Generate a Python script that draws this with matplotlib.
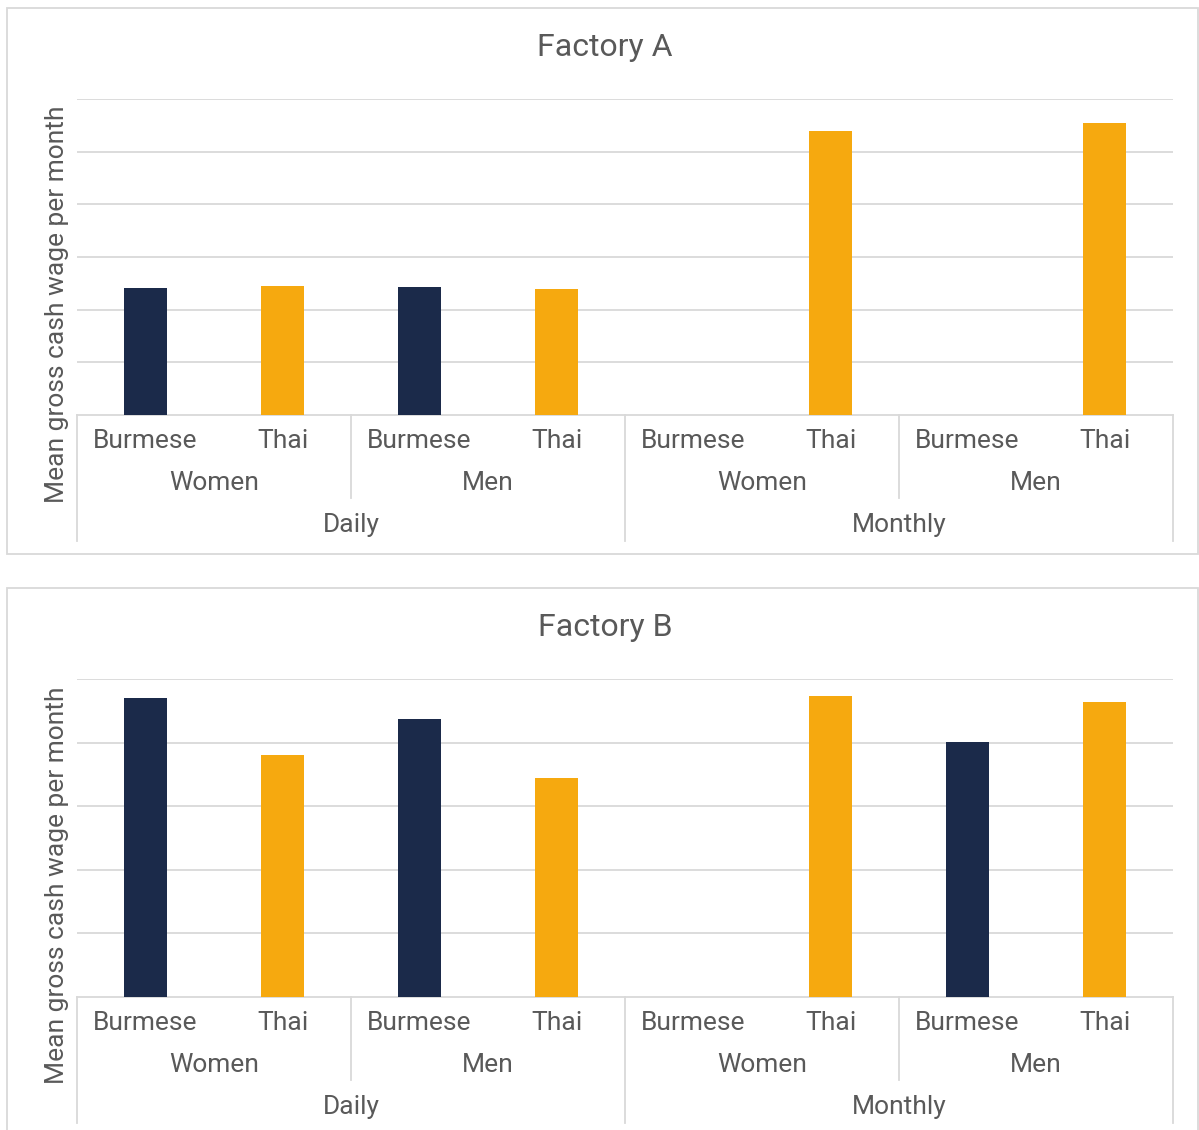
import numpy as np
import matplotlib.pyplot as plt
from matplotlib.patches import Rectangle

plt.rcParams['font.family'] = ['Roboto', 'DejaVu Sans']

# Category levels (innermost first)
nationality = ['Burmese', 'Thai', 'Burmese', 'Thai', 'Burmese', 'Thai', 'Burmese', 'Thai']
gender = ['Women', 'Men', 'Women', 'Men']
pay_basis = ['Daily', 'Monthly']

# Mean gross cash wage per month (in gridline units; 0 = no workers in group)
factory_a = [2.41, 2.45, 2.43, 2.39, 0, 5.39, 0, 5.54]
factory_b = [4.70, 3.81, 4.37, 3.44, 0, 4.73, 4.01, 4.64]

navy = '#1B2A4A'
orange = '#F6A90F'
grey_line = '#D9D9D9'
text_col = '#595959'

W, H = 1199, 1130
fig = plt.figure(figsize=(W / 100, H / 100), dpi=100)


def fx(px):
    return px / W


def fy(py):
    return 1 - py / H


def draw_panel(title, values, top_grid, base, n_grid, box):
    # outer chart border
    bx0, by0, bx1, by1 = box
    fig.patches.append(Rectangle((fx(bx0), fy(by1)), fx(bx1 - bx0), (by1 - by0) / H,
                                 transform=fig.transFigure, fill=False,
                                 edgecolor=grey_line, linewidth=1.3))

    left, right = 77, 1173
    ax = fig.add_axes([fx(left), fy(base), fx(right - left), (base - top_grid) / H])
    x = np.arange(len(values))
    colors = [navy if n == 'Burmese' else orange for n in nationality]
    ax.bar(x, values, width=0.314, color=colors, zorder=3)
    ax.set_xlim(-0.5, len(values) - 0.5)
    ax.set_ylim(0, n_grid)
    ax.set_yticks(np.arange(1, n_grid + 1))
    ax.set_yticklabels([])
    ax.set_xticks([])
    ax.tick_params(left=False)
    ax.grid(axis='y', color=grey_line, linewidth=1.3, zorder=0)
    for s in ['left', 'right', 'top']:
        ax.spines[s].set_visible(False)
    ax.spines['bottom'].set_color(grey_line)
    ax.spines['bottom'].set_linewidth(1.3)

    ax_h = base - top_grid
    tr = ax.get_xaxis_transform()

    # group separators below the axis
    for xs in [-0.5, 3.5, 7.5]:
        ax.plot([xs, xs], [0, -126 / ax_h], transform=tr, color=grey_line,
                linewidth=1.3, clip_on=False)
    for xs in [1.5, 5.5]:
        ax.plot([xs, xs], [0, -83 / ax_h], transform=tr, color=grey_line,
                linewidth=1.3, clip_on=False)

    fs = 19
    for i, lab in enumerate(nationality):
        ax.text(i, -26 / ax_h, lab, transform=tr, ha='center', va='center',
                fontsize=fs, color=text_col)
    for i, lab in enumerate(gender):
        ax.text(2 * i + 0.5, -68 / ax_h, lab, transform=tr, ha='center', va='center',
                fontsize=fs, color=text_col)
    for i, lab in enumerate(pay_basis):
        ax.text(4 * i + 1.5, -110 / ax_h, lab, transform=tr, ha='center', va='center',
                fontsize=fs, color=text_col)

    fig.text(fx(605), fy(by0 + 39), title, ha='center', va='center',
             fontsize=23, color=text_col)
    fig.text(fx(57), fy((top_grid + base) / 2 + 47), 'Mean gross cash wage per month',
             rotation=90, ha='center', va='center', fontsize=fs, color=text_col)


draw_panel('Factory A', factory_a, 99, 415, 6, (7, 8, 1198, 554))
draw_panel('Factory B', factory_b, 679, 997, 5, (7, 588, 1198, 1135))

fig.savefig('out.png', dpi=100, facecolor='white')
